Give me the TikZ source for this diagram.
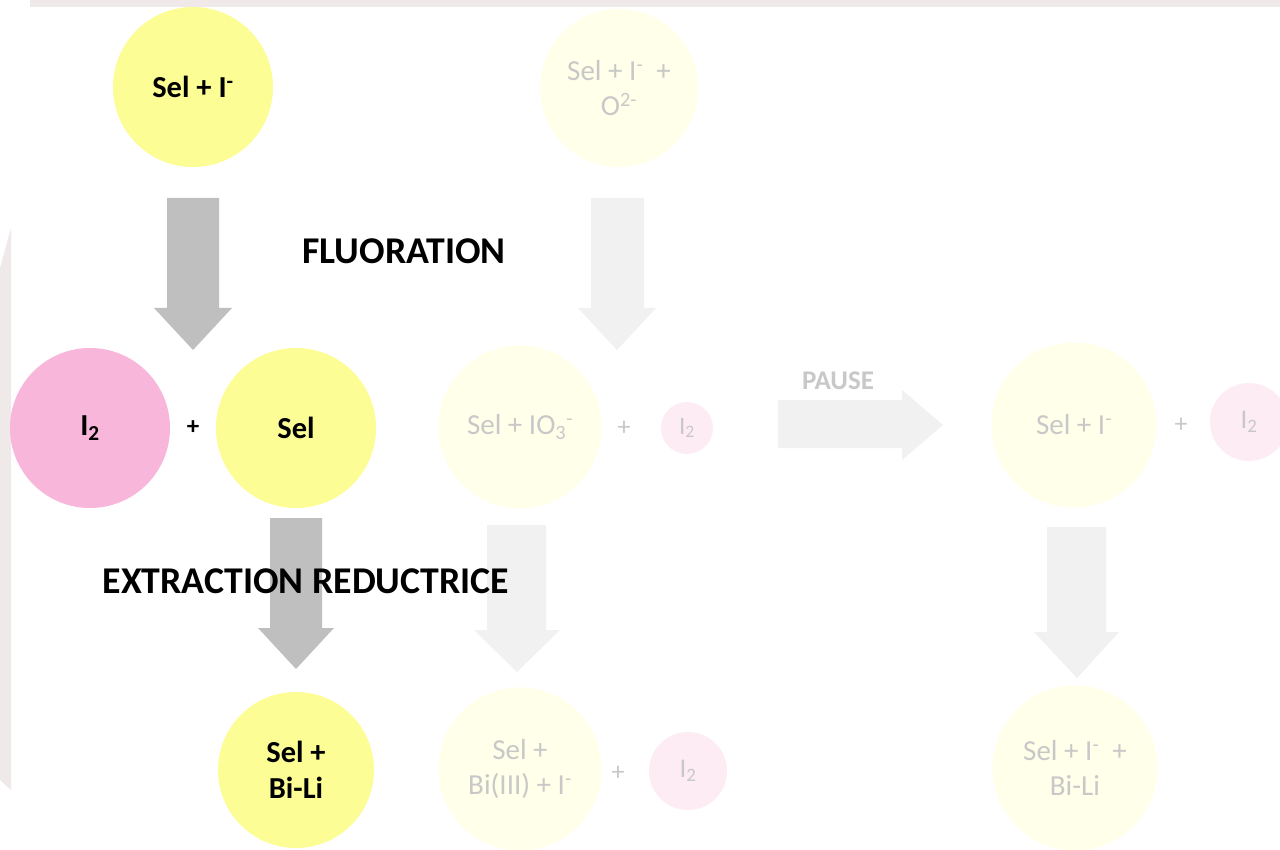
\documentclass[tikz,border=0pt]{standalone}
\usepackage{fontspec}
\setmainfont{Carlito}
\definecolor{myyellow}{RGB}{253,253,150}
\definecolor{mypink}{RGB}{249,182,219}
\definecolor{mygray}{RGB}{191,191,191}
\definecolor{fadeyellow}{RGB}{255,255,234}
\definecolor{fadepink}{RGB}{253,236,244}
\definecolor{fadegray}{RGB}{241,241,241}
\definecolor{fadetext}{RGB}{200,200,200}
\definecolor{bandcol}{RGB}{239,233,233}
\tikzset{
  bub/.style={circle, inner sep=0pt, minimum size=#1, align=center},
  mainbub/.style={bub=#1, fill=myyellow, text=black, font=\bfseries\fontsize{30.5}{36}\selectfont},
  mainpink/.style={bub=#1, fill=mypink, text=black, font=\bfseries\fontsize{30.5}{36}\selectfont},
  fadebub/.style={bub=#1, fill=fadeyellow, text=fadetext, font=\fontsize{29}{35}\selectfont},
  fadepinkbub/.style={bub=#1, fill=fadepink, text=fadetext, font=\fontsize{27}{33}\selectfont},
  mainplus/.style={text=black, font=\bfseries\fontsize{25}{29}\selectfont},
  fadeplus/.style={text=fadetext, font=\fontsize{26}{30}\selectfont},
  blockarrow/.style={fill=mygray, draw=none},
  fadearrow/.style={fill=fadegray, draw=none},
  steplabel/.style={text=black, font=\bfseries\fontsize{37.8}{44}\selectfont},
  fadelabel/.style={text=fadetext, font=\bfseries\fontsize{27}{32}\selectfont},
}
\begin{document}
\begin{tikzpicture}[x=1pt,y=-1pt]
\useasboundingbox (0,0) rectangle (1280,850);
\fill[white] (0,0) rectangle (1280,850);
% background decoration
\fill[bandcol] (30,0) rectangle (1280,7);
\fill[bandcol] (0,268) -- (11,228) -- (11,790) -- (0,780) -- cycle;

% circles - main
\node[mainbub=160pt] (c1) at (193,87) {Sel + I\textsuperscript{-}};
\node[mainpink=160pt] (i2a) at (90,428) {I\textsubscript{2}};
\node[mainbub=160pt] (sel) at (296,428) {Sel};
\node[mainplus] (p1) at (193,428) {+};
\node[mainbub=156pt] (selbi) at (296,770) {Sel +\\Bi-Li};

% circles - faded
\node[fadebub=158pt] (c2) at (619,88) {Sel + I\textsuperscript{-}\ \ +\\O\textsuperscript{2-}};
\node[fadebub=163pt] (c3) at (520,427) {Sel + IO\textsubscript{3}\textsuperscript{-}};
\node[fadeplus] (p2) at (624,428) {+};
\node[fadepinkbub=52pt, font=\fontsize{25}{29}\selectfont] (i2b) at (687,428) {I\textsubscript{2}};
\node[fadebub=165pt] (c4) at (1074,425) {Sel + I\textsuperscript{-}};
\node[fadeplus] (p3) at (1181,425) {+};
\node[fadepinkbub=78pt] (i2c) at (1249,422) {I\textsubscript{2}};
\node[fadebub=163pt] (c5) at (520,769) {Sel +\\Bi(III) + I\textsuperscript{-}};
\node[fadeplus] (p4) at (618,773) {+};
\node[fadepinkbub=78pt] (i2d) at (688,771) {I\textsubscript{2}};
\node[fadebub=165pt] (c6) at (1075,768) {Sel + I\textsuperscript{-}\ \ +\\Bi-Li};

% block arrows - main
\fill[blockarrow] (167,198) -- (219,198) -- (219,308) -- (232,308) -- (193,350) -- (154,308) -- (167,308) -- cycle;
\fill[blockarrow] (270,518) -- (322,518) -- (322,628) -- (334,628) -- (296,669) -- (258,628) -- (270,628) -- cycle;

% block arrows - faded
\fill[fadearrow] (591,198) -- (644,198) -- (644,308) -- (656,308) -- (617,350) -- (578,308) -- (591,308) -- cycle;
\fill[fadearrow] (487,525) -- (546,525) -- (546,630) -- (560,630) -- (517,672) -- (474,630) -- (487,630) -- cycle;
\fill[fadearrow] (1047,527) -- (1106,527) -- (1106,632) -- (1119,632) -- (1077,678) -- (1034,632) -- (1047,632) -- cycle;
\fill[fadearrow] (778,400) -- (902,400) -- (902,390) -- (943,425) -- (902,460) -- (902,448) -- (778,448) -- cycle;

% labels
\node[steplabel] (fluo) at (404,251) {FLUORATION};
\node[steplabel] (extr) at (306,581) {EXTRACTION REDUCTRICE};
\node[fadelabel] (pause) at (838,381) {PAUSE};
\end{tikzpicture}
\end{document}
